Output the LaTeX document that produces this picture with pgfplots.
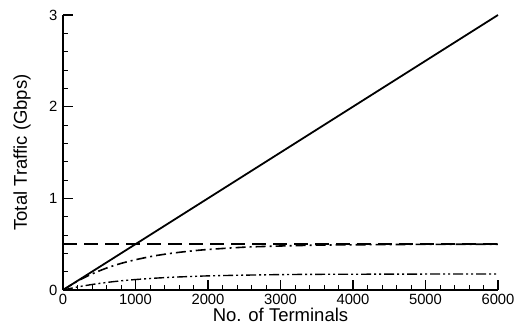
\documentclass[border=0pt]{standalone}
\usepackage{fontspec}
\setmainfont{Liberation Sans}
\usepackage{pgfplots}
\pgfplotsset{compat=1.18}
\begin{document}
\begin{tikzpicture}
\useasboundingbox (0,0) rectangle (525bp,324bp);
\begin{axis}[
  at={(63bp,34bp)}, anchor=south west,
  scale only axis, width=435bp, height=275bp,
  xmin=0, xmax=6000, ymin=0, ymax=3,
  axis x line*=bottom, axis y line*=left,
  axis line style={line width=1.6pt,-},
  xtick={0,1000,...,6000}, ytick={0,1,2,3},
  minor x tick num=4, minor y tick num=4,
  tick align=inside,
  major tick length=10bp, minor tick length=5bp,
  every tick/.style={black, line width=1.4pt},
  minor tick style={line width=1pt},
  scaled x ticks=false,
  /pgf/number format/assume math mode=true,
  /pgf/number format/set thousands separator={},
  tick label style={font=\fontsize{14.8bp}{16bp}\selectfont},
  xticklabel style={anchor=base, yshift=-14bp},
  yticklabel style={anchor=east, xshift=-2bp},
  xlabel={No. of Terminals}, ylabel={Total Traffic (Gbps)},
  label style={font=\fontsize{18.5bp}{20bp}\selectfont},
  xlabel style={at={(axis description cs:0.5,0)}, anchor=base, yshift=-31.5bp},
  ylabel style={at={(axis description cs:0,0.5)}, anchor=center, yshift=41bp},
  clip=false,
]
\addplot[black, line width=1.8pt] coordinates {(0,0) (6000,3)};
\addplot[black, line width=1.6pt, dash pattern=on 14bp off 7bp] coordinates {(0,0.5) (6000,0.5)};
\addplot[black, line width=1.6pt, dash pattern=on 10bp off 4bp on 2bp off 4bp, smooth] coordinates {
(0,0) (200,0.097) (400,0.175) (600,0.239) (800,0.290) (1000,0.330) (1250,0.371) (1500,0.401) (1750,0.424) (2000,0.442) (2500,0.467) (3000,0.480) (3500,0.489) (4000,0.493) (5000,0.498) (6000,0.499)};
\addplot[black, line width=1.4pt, dash pattern=on 10bp off 3bp on 2bp off 3bp on 2bp off 3bp, smooth] coordinates {
(0,0) (200,0.033) (400,0.060) (600,0.082) (800,0.100) (1000,0.114) (1250,0.128) (1500,0.139) (1750,0.147) (2000,0.154) (2500,0.162) (3000,0.168) (3500,0.171) (4000,0.172) (5000,0.174) (6000,0.175)};
\end{axis}
\end{tikzpicture}
\end{document}
